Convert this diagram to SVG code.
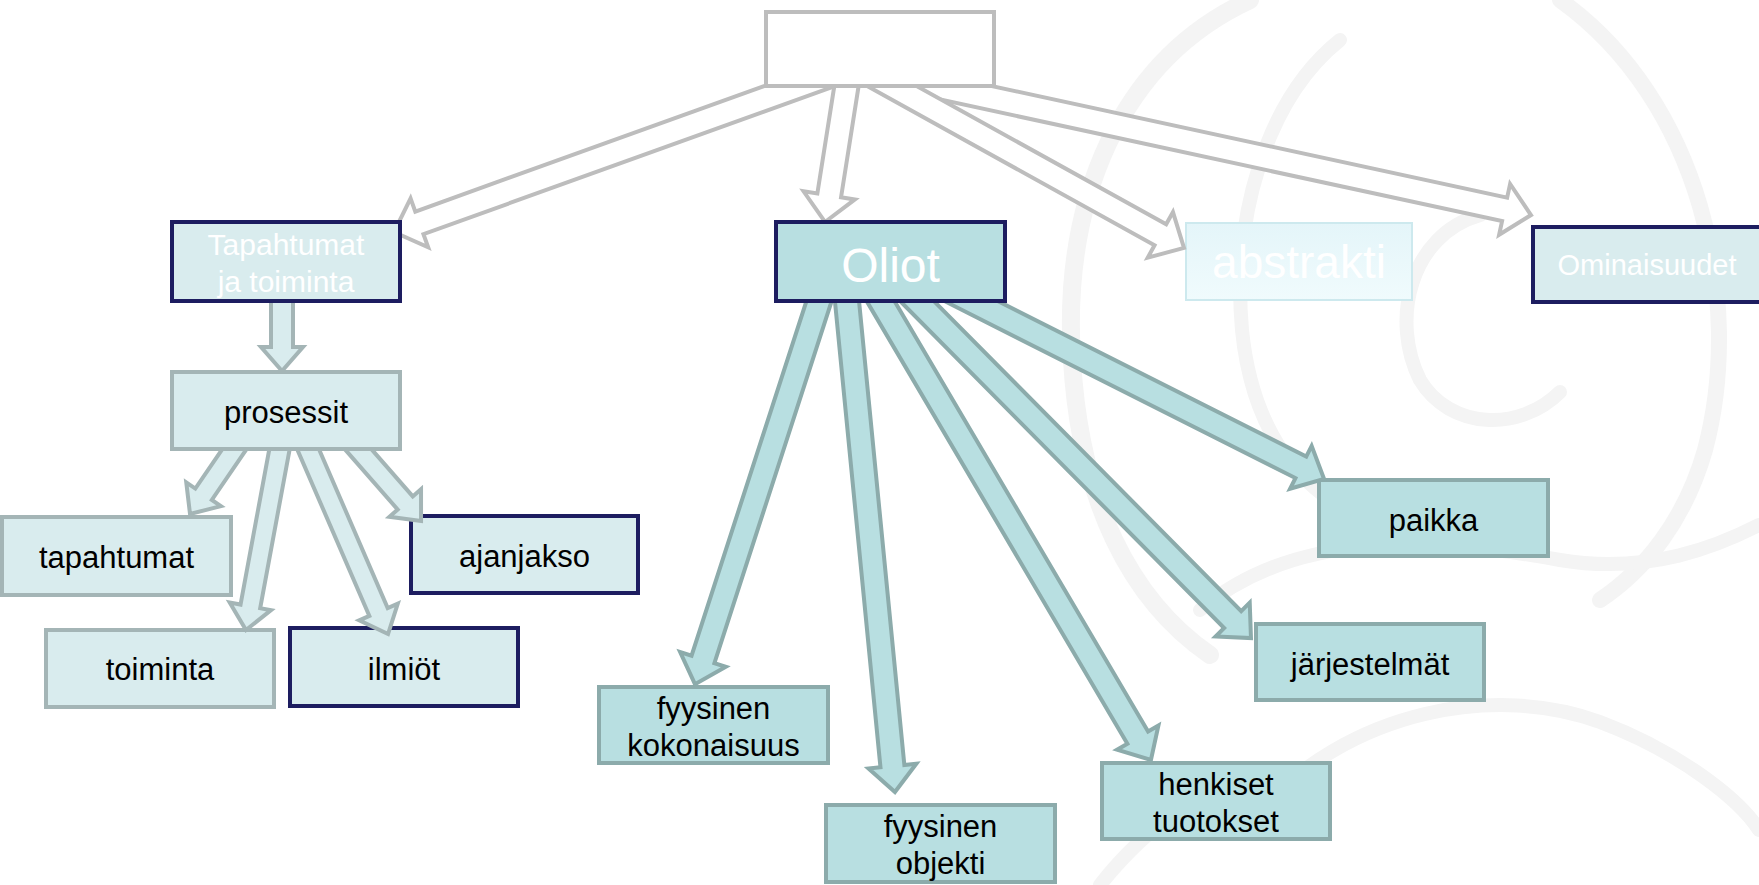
<svg xmlns="http://www.w3.org/2000/svg" width="1759" height="885" viewBox="0 0 1759 885">
<defs>
<linearGradient id="gAbs" x1="0" y1="0" x2="0" y2="1">
<stop offset="0" stop-color="#e4f5f9"/>
<stop offset="1" stop-color="#f0fbfd"/>
</linearGradient>
</defs>
<style>
text{font-family:"Liberation Sans",Arial,sans-serif;text-anchor:middle}
.swirl{fill:none;stroke:#f4f4f4;stroke-linecap:round}
.lt{fill:#d9ecee;stroke:#a4b5b6;stroke-width:4}
.ltn{fill:#d9ecee;stroke:#1d1d60;stroke-width:4}
.tl{fill:#b8dfe1;stroke:#8cabab;stroke-width:4}
.tln{fill:#b8dfe1;stroke:#1d1d60;stroke-width:4}
.top{fill:#ffffff;stroke:#bdbdbd;stroke-width:4}
.blk{fill:#000000;font-size:31px}
.wht{fill:#ffffff}
.ag{fill:#ffffff;stroke:#bdbdbd;stroke-width:4;stroke-linejoin:miter}
.at{fill:#b8dfe1;stroke:#8cabab;stroke-width:4;stroke-linejoin:miter}
.ap{fill:#d9ecee;stroke:#a4b5b6;stroke-width:4;stroke-linejoin:miter}
</style>
<rect width="1759" height="885" fill="#ffffff"/>
<g id="background">
<path class="swirl" stroke-width="18" d="M1250,0 C1120,60 1062,200 1072,360 C1080,500 1130,600 1210,655"/>
<path class="swirl" stroke-width="14" d="M1340,40 C1265,100 1232,220 1242,330 C1252,430 1300,495 1370,520"/>
<path class="swirl" stroke-width="14" d="M1480,215 C1410,235 1390,320 1420,380 C1450,430 1520,432 1560,392"/>
<path class="swirl" stroke-width="16" d="M1560,0 C1700,100 1745,300 1705,450 C1685,520 1645,570 1600,600"/>
<path class="swirl" stroke-width="14" d="M1200,610 C1300,525 1450,540 1560,560 C1650,575 1720,545 1759,525"/>
<path class="swirl" stroke-width="14" d="M1250,820 C1350,705 1500,685 1600,722 C1680,752 1740,800 1759,830"/>
<path class="swirl" stroke-width="14" d="M1100,885 C1150,822 1200,792 1262,772"/>
</g>
<g id="node-tapahtumat"><rect class="lt" x="2" y="517" width="229" height="78"/><text class="blk" x="116.5" y="568">tapahtumat</text></g>
<g id="node-toiminta"><rect class="lt" x="46" y="630" width="228" height="77"/><text class="blk" x="160" y="680">toiminta</text></g>
<g id="node-ilmiot"><rect class="ltn" x="290" y="628" width="228" height="78"/><text class="blk" x="404" y="680">ilmiöt</text></g>
<g id="node-ajanjakso"><rect class="ltn" x="411" y="516" width="227" height="77"/><text class="blk" x="524.5" y="567">ajanjakso</text></g>
<g id="node-fyysinen-kokonaisuus"><rect class="tl" x="599" y="687" width="229" height="76"/><text class="blk" x="713.5" y="719">fyysinen</text><text class="blk" x="713.5" y="756">kokonaisuus</text></g>
<g id="node-fyysinen-objekti"><rect class="tl" x="826" y="805" width="229" height="77"/><text class="blk" x="940.5" y="837">fyysinen</text><text class="blk" x="940.5" y="874">objekti</text></g>
<g id="node-henkiset-tuotokset"><rect class="tl" x="1102" y="763" width="228" height="76"/><text class="blk" x="1216" y="795">henkiset</text><text class="blk" x="1216" y="832">tuotokset</text></g>
<g id="node-jarjestelmat"><rect class="tl" x="1256" y="624" width="228" height="76"/><text class="blk" x="1370" y="675">järjestelmät</text></g>
<g id="node-paikka"><rect class="tl" x="1319" y="480" width="229" height="76"/><text class="blk" x="1433.5" y="531">paikka</text></g>
<g id="node-abstrakti"><rect x="1186" y="223" width="226" height="77" fill="url(#gAbs)" stroke="#cde9ee" stroke-width="2"/><text class="wht" x="1299" y="278" font-size="46">abstrakti</text></g>
<g id="node-ominaisuudet"><rect class="ltn" x="1533" y="227" width="228" height="75"/><text class="wht" x="1647" y="275" font-size="29">Ominaisuudet</text></g>
<g id="connectors">
<path class="ag" transform="translate(870,72) rotate(12.21)" d="M0,-12 L649.3,-12 L649.3,-26 L676.3,0 L649.3,26 L649.3,12 L0,12 Z"/>
<path class="ag" transform="translate(863,70) rotate(29.0)" d="M0,-12 L340,-12 L340,-26 L367,0 L340,26 L340,12 L0,12 Z"/>
<path class="ag" transform="translate(849,70) rotate(98.97)" d="M0,-12 L126.9,-12 L126.9,-26 L153.9,0 L126.9,26 L126.9,12 L0,12 Z"/>
<path class="ag" transform="translate(844,70) rotate(160.2)" d="M0,-12 L451.3,-12 L451.3,-26 L478.3,0 L451.3,26 L451.3,12 L0,12 Z"/>
<path class="at" transform="translate(823.3,288) rotate(107.95)" d="M0,-12 L390.4,-12 L390.4,-24 L416.4,0 L390.4,24 L390.4,12 L0,12 Z"/>
<path class="at" transform="translate(845.7,288) rotate(84.42)" d="M0,-12 L480.4,-12 L480.4,-24 L506.4,0 L480.4,24 L480.4,12 L0,12 Z"/>
<path class="at" transform="translate(872.9,288) rotate(59.5)" d="M0,-12 L521.8,-12 L521.8,-24 L547.8,0 L521.8,24 L521.8,12 L0,12 Z"/>
<path class="at" transform="translate(904.1,288) rotate(45.26)" d="M0,-12 L466.8,-12 L466.8,-24 L492.8,0 L466.8,24 L466.8,12 L0,12 Z"/>
<path class="at" transform="translate(945.2,288) rotate(26.76)" d="M0,-12 L398.3,-12 L398.3,-24 L424.3,0 L398.3,24 L398.3,12 L0,12 Z"/>
<path class="ap" transform="translate(282,295) rotate(90)" d="M0,-11 L52,-11 L52,-21 L76,0 L52,21 L52,11 L0,11 Z"/>
<path class="ap" transform="translate(240.7,440) rotate(124.4)" d="M0,-10 L65.7,-10 L65.7,-21 L89.7,0 L65.7,21 L65.7,10 L0,10 Z"/>
<path class="ap" transform="translate(281.2,440) rotate(100.5)" d="M0,-10 L169.2,-10 L169.2,-21 L193.2,0 L169.2,21 L169.2,10 L0,10 Z"/>
<path class="ap" transform="translate(304.1,440) rotate(66.6)" d="M0,-10 L187.4,-10 L187.4,-21 L211.4,0 L187.4,21 L187.4,10 L0,10 Z"/>
<path class="ap" transform="translate(350.1,440) rotate(48.8)" d="M0,-10 L83.7,-10 L83.7,-21 L107.7,0 L83.7,21 L83.7,10 L0,10 Z"/>
</g>
<g id="node-top"><rect class="top" x="766" y="12" width="228" height="74"/></g>
<g id="node-tapahtumat-ja-toiminta"><rect class="ltn" x="172" y="222" width="228" height="79"/><text class="wht" x="286" y="255" font-size="30">Tapahtumat</text><text class="wht" x="286" y="292" font-size="30">ja toiminta</text></g>
<g id="node-prosessit"><rect class="lt" x="172" y="372" width="228" height="77"/><text class="blk" x="286" y="423">prosessit</text></g>
<g id="node-oliot"><rect class="tln" x="776" y="222" width="229" height="79"/><text class="wht" x="890.5" y="282" font-size="48">Oliot</text></g>
</svg>
